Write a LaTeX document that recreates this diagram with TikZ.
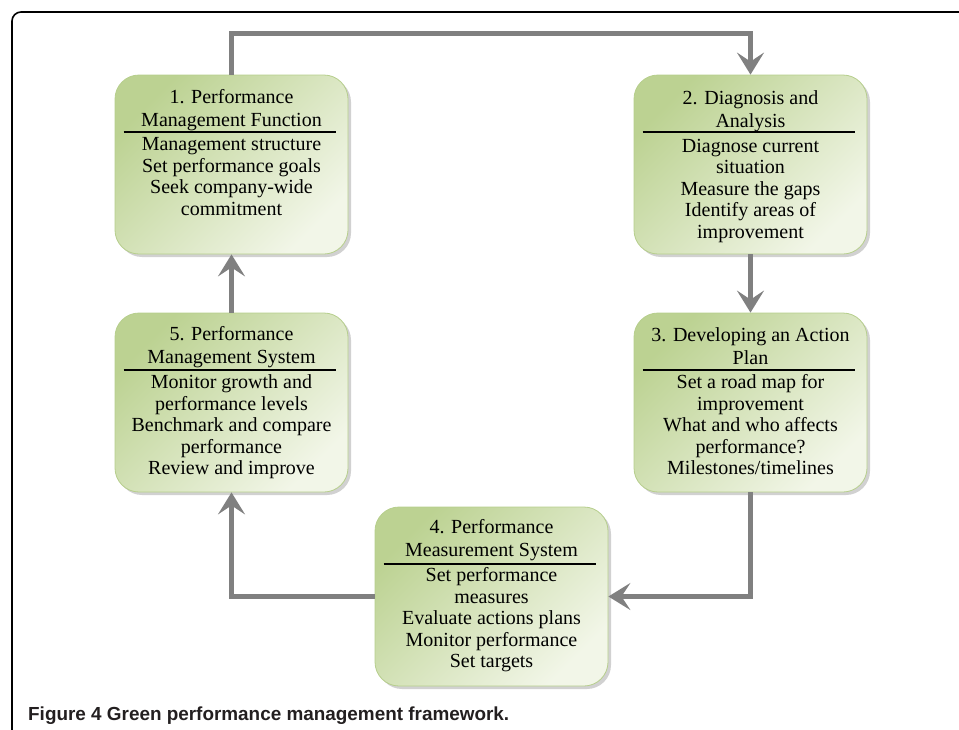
\documentclass[tikz,border=0pt]{standalone}
\usepackage{fontspec}
\setmainfont{Liberation Serif}
\newfontfamily\captionfont{Liberation Sans}
\usepackage{xcolor}
\usepackage{tikz}
\usetikzlibrary{arrows.meta,positioning,shadows}

\definecolor{boxdark}{RGB}{188,210,146}
\definecolor{boxlight}{RGB}{242,246,232}
\definecolor{boxedge}{RGB}{182,206,140}
\definecolor{flowgray}{RGB}{128,128,128}
\definecolor{captext}{RGB}{35,31,32}

\begin{document}
\begin{tikzpicture}[x=1pt,y=-1pt,
	stagebox/.style={draw=boxedge,line width=0.8pt,rounded corners=24pt,minimum width=233pt,minimum height=179pt,
		top color=boxdark,bottom color=boxlight,shading angle=45,
		drop shadow={shadow xshift=3pt,shadow yshift=-3pt,fill=black!45,opacity=.4}},
	stagetitle/.style={align=center,inner sep=0pt,font=\fontsize{20}{23}\selectfont},
	stagetext/.style={align=center,inner sep=0pt,font=\fontsize{20}{21.5}\selectfont},
	sepline/.style={line width=2pt},
	flow/.style={draw=flowgray,line width=5pt,-{Stealth[length=22pt,width=27pt,inset=9pt]}}]
				\useasboundingbox (0,0) rectangle (959,729);
				% frame of the figure
				\draw[line width=1.6pt,rounded corners=9pt] (12,770) -- (12,12) -- (990,12);
				% the five stages
				\node[stagebox] (s1) at (231.5,164.5) {};
				\node[stagebox] (s2) at (750.5,164.5) {};
				\node[stagebox] (s3) at (750.5,402.5) {};
				\node[stagebox] (s4) at (491.5,596.5) {};
				\node[stagebox] (s5) at (231.5,402.5) {};
				\foreach \s in {s1,s2,s3,s4,s5}
					\draw[sepline] ([xshift=9pt,yshift=-57pt]\s.north west) -- ([xshift=-12pt,yshift=-57pt]\s.north east);
				\node[stagetitle,below=15pt of s1.north] (s1t) {1. Performance\\Management Function};
				\node[stagetext,below=63pt of s1.north] (s1b) {Management structure\\Set performance goals\\Seek company-wide\\commitment};
				\node[stagetitle,below=16pt of s2.north] (s2t) {2. Diagnosis and\\Analysis};
				\node[stagetext,below=64pt of s2.north] (s2b) {Diagnose current\\situation\\Measure the gaps\\Identify areas of\\improvement};
				\node[stagetitle,below=15pt of s3.north] (s3t) {3. Developing an Action\\Plan};
				\node[stagetext,below=62pt of s3.north] (s3b) {Set a road map for\\improvement\\What and who affects\\performance?\\Milestones/timelines};
				\node[stagetitle,below=13pt of s4.north] (s4t) {4. Performance\\Measurement System};
				\node[stagetext,below=61pt of s4.north] (s4b) {Set performance\\measures\\Evaluate actions plans\\Monitor performance\\Set targets};
				\node[stagetitle,below=14pt of s5.north] (s5t) {5. Performance\\Management System};
				\node[stagetext,below=62pt of s5.north] (s5b) {Monitor growth and\\performance levels\\Benchmark and compare\\performance\\Review and improve};
				% connectors
				\coordinate (top) at (0,33);
				\draw[flow] (s1.north) -- (s1.north |- top) -- (s2.north |- top) -- (s2.north);
				\draw[flow] (s2.south) -- (s3.north);
				\draw[flow] (s3.south) |- (s4.east);
				\draw[flow] (s4.west) -| (s5.south);
				\draw[flow] (s5.north) -- (s1.south);
				% caption
				\node[anchor=base west,inner sep=0pt,text=captext,font=\captionfont\bfseries\fontsize{18.9}{22}\selectfont] (cap) at (28,720) {Figure 4 Green performance management framework.};
			\end{tikzpicture}
\end{document}
